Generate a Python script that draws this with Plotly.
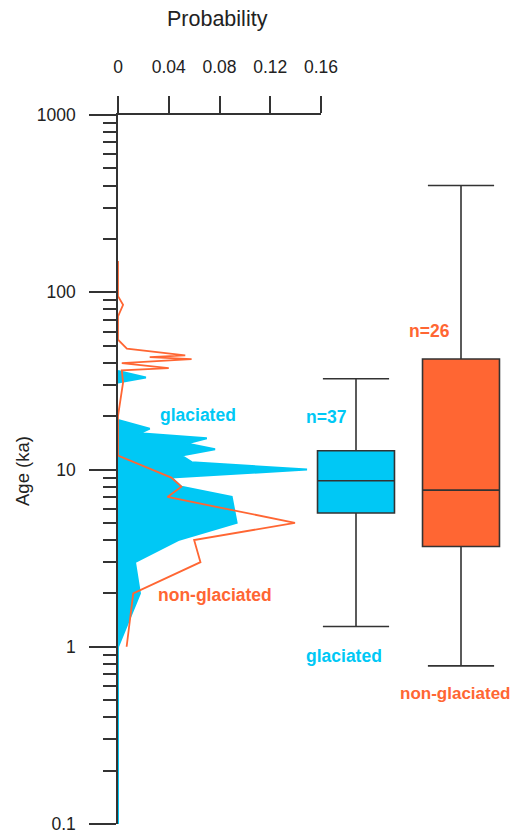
import plotly.graph_objects as go

# ---------------- data ----------------
# Probability density curves (age in ka, probability)
glac_spike_age = [36, 33, 31]
glac_spike_prob = [0, 0.022, 0]
glac_age = [19, 17, 16, 15, 14, 13, 12, 11, 10, 9, 8, 7, 5, 4, 3, 2, 1, 0.1]
glac_prob = [0, 0.025, 0.017, 0.070, 0.054, 0.0765, 0.050, 0.058, 0.149,
             0.042, 0.050, 0.0896, 0.0935, 0.0475, 0.0134, 0.0173, 0, 0]

nong_age = [150, 95, 85, 73, 54, 48, 44, 43, 42, 39.8, 37.3, 36.2, 31, 25, 20, 12,
            9, 8, 7, 5, 4, 3, 2, 1]
nong_prob = [0, 0, 0.004, 0, 0, 0.007, 0.053, 0.025, 0.058, 0.003, 0.040, 0.003, 0.004,
             0.002, 0, 0, 0.042, 0.050, 0.039, 0.1395, 0.060, 0.065, 0.012, 0.0068]

# Box plot statistics (ka)
box_names = ["glaciated", "non-glaciated"]
box_n = [37, 26]
box_lower = [1.30, 0.78]
box_q1 = [5.68, 3.68]
box_median = [8.64, 7.65]
box_q3 = [12.75, 42.0]
box_upper = [32.5, 400.0]

prob_ticks = [0, 0.04, 0.08, 0.12, 0.16]
prob_ticktext = ["0", "0.04", "0.08", "0.12", "0.16"]
age_ticks = [0.1, 1, 10, 100, 1000]
age_ticktext = ["0.1", "1", "10", "100", "1000"]
age_minor = [k * 10 ** e for e in range(-1, 3) for k in range(2, 10)]

CYAN = "#00C8F5"
ORANGE = "#FF6633"
DARK = "#333333"

OFF = 8  # default page body margin
W, H = 519 - OFF, 834 - OFF
ML, MT = 118 - OFF, 115 - OFF
PW, PH = 391, 709
MR, MB = W - ML - PW, H - MT - PH


def px2paper(px, py):
    fx, fy = px - OFF, py - OFF
    return (fx - ML) / PW, (MT + PH - fy) / PH


fig = go.Figure()

for xs, ys in [(glac_spike_prob, glac_spike_age), (glac_prob, glac_age)]:
    fig.add_trace(go.Scatter(
        x=xs, y=ys, mode="lines", fill="tozerox",
        fillcolor=CYAN, line=dict(color=CYAN, width=2),
        xaxis="x", yaxis="y", showlegend=False, hoverinfo="x+y"))

fig.add_trace(go.Scatter(
    x=nong_prob, y=nong_age, mode="lines",
    line=dict(color=ORANGE, width=1.8),
    xaxis="x", yaxis="y", showlegend=False, hoverinfo="x+y"))

colors = [CYAN, ORANGE]
for i, name in enumerate(box_names):
    fig.add_trace(go.Box(
        x=[name], q1=[box_q1[i]], median=[box_median[i]], q3=[box_q3[i]],
        lowerfence=[box_lower[i]], upperfence=[box_upper[i]],
        fillcolor=colors[i], line=dict(color=DARK, width=1.6),
        whiskerwidth=0.86, width=0.733, boxpoints=False,
        xaxis="x2", yaxis="y", showlegend=False, name=name))

# x2 layout so that categories sit at page pixel 356 and 461
c0_px, step_px = 356 - 118, 105
x2_start = -c0_px / step_px
x2_end = x2_start + PW / step_px

fig.update_layout(
    template="none",
    width=W, height=H,
    margin=dict(l=ML, r=MR, t=MT, b=MB, pad=0, autoexpand=False),
    paper_bgcolor="white", plot_bgcolor="rgba(0,0,0,0)",
    font=dict(family="Liberation Sans, Arial, sans-serif", color="#222222"),
    xaxis=dict(
        domain=[0, 203 / PW], range=[0, 0.16], side="top", anchor="y",
        showline=True, linecolor=DARK, linewidth=1.5, mirror=False,
        ticks="outside", ticklen=17, tickwidth=1.5, tickcolor=DARK,
        tickvals=prob_ticks, ticktext=prob_ticktext, tickfont=dict(size=17.5),
        ticklabelstandoff=16, automargin=False, ticklabeloverflow="allow",
        showgrid=False, zeroline=False, fixedrange=True),
    xaxis2=dict(
        domain=[0, 1], range=[x2_start, x2_end], anchor="y", visible=False,
        type="category", categoryorder="array", categoryarray=box_names,
        automargin=False, fixedrange=True),
    yaxis=dict(
        type="log", range=[-1, 3], anchor="x", domain=[0, 1],
        showline=True, linecolor=DARK, linewidth=1.5,
        ticks="outside", ticklen=27, tickwidth=1.5, tickcolor=DARK,
        tickvals=age_ticks, ticktext=age_ticktext, tickfont=dict(size=17.5),
        ticklabelstandoff=10, automargin=False, ticklabeloverflow="allow",
        minor=dict(ticks="outside", ticklen=13, tickwidth=1.5, tickcolor=DARK,
                   tickvals=age_minor, showgrid=False),
        showgrid=False, zeroline=False, layer="below traces", fixedrange=True),
)

ann = []


def add_text(px, py, text, size, color, bold=False, angle=0):
    x, y = px2paper(px, py)
    ann.append(dict(x=x, y=y, xref="paper", yref="paper", text=(f"<b>{text}</b>" if bold else text),
                    showarrow=False, xanchor="center", yanchor="middle", textangle=angle,
                    font=dict(size=size, color=color)))


add_text(217, 19, "Probability", 21.5, "#222222")
add_text(22, 471, "Age (ka)", 18.5, "#222222", angle=-90)
add_text(198, 415, "glaciated", 17.5, CYAN, bold=True)
add_text(215, 595, "non-glaciated", 17.5, ORANGE, bold=True)
add_text(326, 417, f"n={box_n[0]}", 17.5, CYAN, bold=True)
add_text(429, 331, f"n={box_n[1]}", 17.5, ORANGE, bold=True)
add_text(344, 656, box_names[0], 17.5, CYAN, bold=True)
add_text(455, 693, box_names[1], 17, ORANGE, bold=True)
fig.update_layout(annotations=ann)

fig.write_html("out.html")
